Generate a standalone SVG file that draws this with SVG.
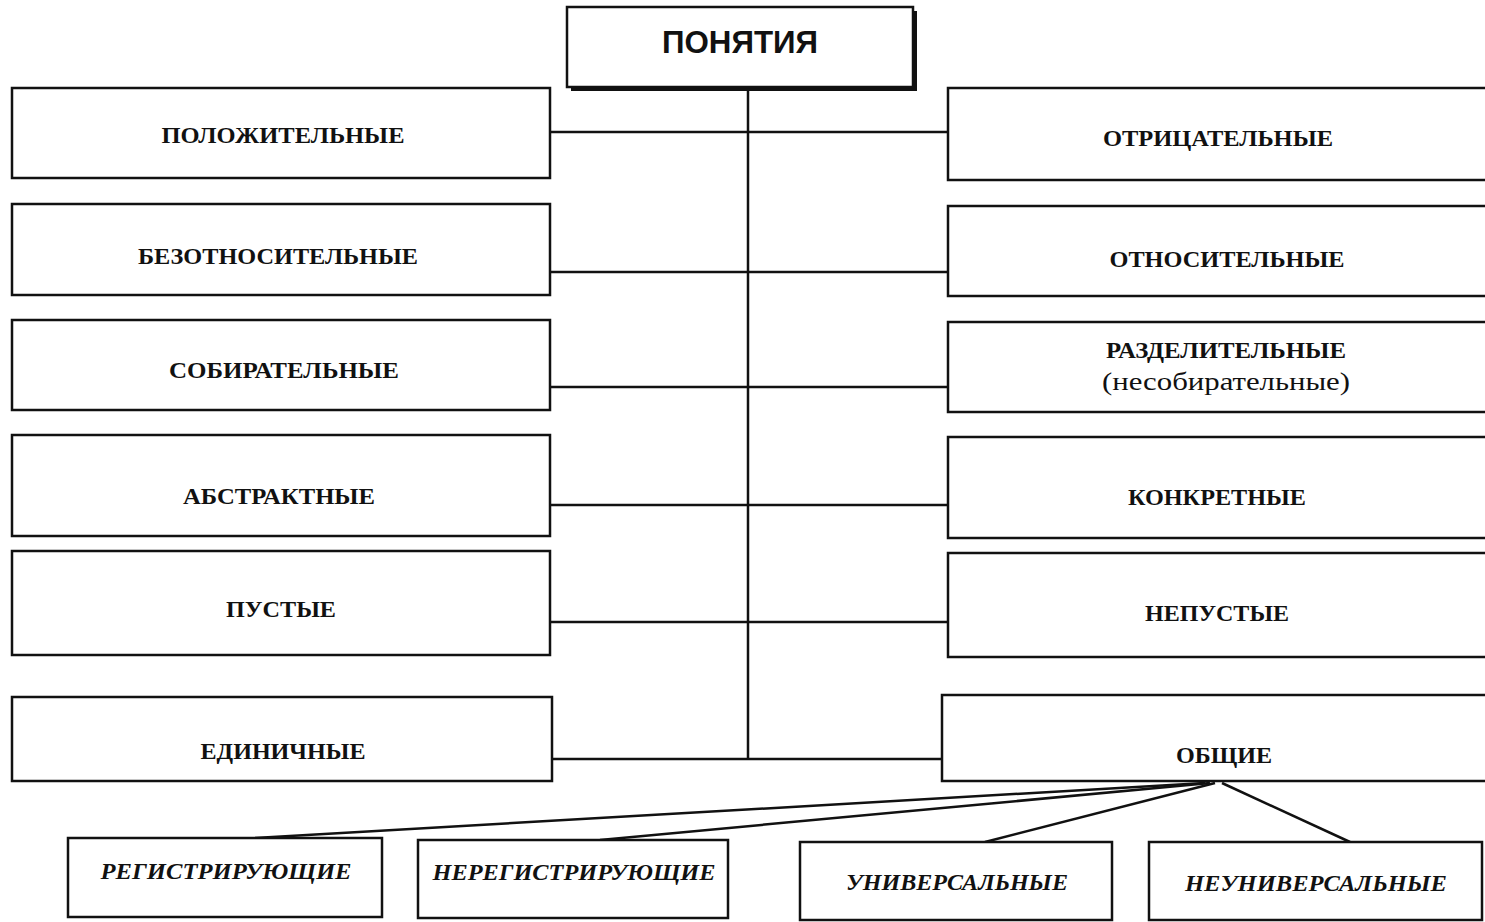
<svg xmlns="http://www.w3.org/2000/svg" width="1485" height="922" viewBox="0 0 1485 922">
<style>
.box{fill:#fff;stroke:#111;stroke-width:2.5}
.lbl{font-family:"Liberation Serif",serif;font-weight:bold;font-size:24px;fill:#111;text-anchor:middle;dominant-baseline:central}
.it{font-style:italic}
.reg{font-family:"Liberation Serif",serif;font-size:25px;fill:#111;text-anchor:middle;dominant-baseline:central}
.top{font-family:"Liberation Sans",sans-serif;font-weight:bold;font-size:31px;fill:#111;text-anchor:middle;dominant-baseline:central}
.ln{stroke:#111;stroke-width:2.5;fill:none}
</style>
<rect width="1485" height="922" fill="#fff"/>
<g id="connectors">
<line class="ln" x1="748" y1="87" x2="748" y2="759"/>
<line class="ln" x1="550" y1="132" x2="948" y2="132"/>
<line class="ln" x1="550" y1="272" x2="948" y2="272"/>
<line class="ln" x1="550" y1="387" x2="948" y2="387"/>
<line class="ln" x1="550" y1="505" x2="948" y2="505"/>
<line class="ln" x1="550" y1="622" x2="948" y2="622"/>
<line class="ln" x1="552" y1="759" x2="942" y2="759"/>
<line class="ln" x1="1205" y1="783" x2="255" y2="838"/>
<line class="ln" x1="1210" y1="783" x2="600" y2="840"/>
<line class="ln" x1="1215" y1="783" x2="985" y2="842"/>
<line class="ln" x1="1222" y1="783" x2="1350" y2="842"/>
</g>
<g id="n-ponyatiya">
<rect x="571" y="11" width="346" height="80" fill="#111"/>
<rect class="box" x="567" y="7" width="346" height="80"/>
<text class="top" x="740" y="42" textLength="156" lengthAdjust="spacingAndGlyphs">ПОНЯТИЯ</text>
</g>
<g id="n-polozh"><rect class="box" x="12" y="88" width="538" height="90"/><text class="lbl" x="283" y="135" textLength="243" lengthAdjust="spacingAndGlyphs">ПОЛОЖИТЕЛЬНЫЕ</text></g>
<g id="n-otric"><rect class="box" x="948" y="88" width="540" height="92"/><text class="lbl" x="1218" y="138" textLength="230" lengthAdjust="spacingAndGlyphs">ОТРИЦАТЕЛЬНЫЕ</text></g>
<g id="n-bezotn"><rect class="box" x="12" y="204" width="538" height="91"/><text class="lbl" x="278" y="256" textLength="280" lengthAdjust="spacingAndGlyphs">БЕЗОТНОСИТЕЛЬНЫЕ</text></g>
<g id="n-otn"><rect class="box" x="948" y="206" width="540" height="90"/><text class="lbl" x="1227" y="259" textLength="235" lengthAdjust="spacingAndGlyphs">ОТНОСИТЕЛЬНЫЕ</text></g>
<g id="n-sobir"><rect class="box" x="12" y="320" width="538" height="90"/><text class="lbl" x="284" y="370" textLength="230" lengthAdjust="spacingAndGlyphs">СОБИРАТЕЛЬНЫЕ</text></g>
<g id="n-razdel"><rect class="box" x="948" y="322" width="540" height="90"/><text class="lbl" x="1226" y="350" textLength="240" lengthAdjust="spacingAndGlyphs">РАЗДЕЛИТЕЛЬНЫЕ</text><text class="reg" x="1226" y="381" textLength="248" lengthAdjust="spacingAndGlyphs">(несобирательные)</text></g>
<g id="n-abstr"><rect class="box" x="12" y="435" width="538" height="101"/><text class="lbl" x="279" y="496" textLength="192" lengthAdjust="spacingAndGlyphs">АБСТРАКТНЫЕ</text></g>
<g id="n-konkr"><rect class="box" x="948" y="437" width="540" height="101"/><text class="lbl" x="1217" y="497" textLength="178" lengthAdjust="spacingAndGlyphs">КОНКРЕТНЫЕ</text></g>
<g id="n-pust"><rect class="box" x="12" y="551" width="538" height="104"/><text class="lbl" x="281" y="609" textLength="110" lengthAdjust="spacingAndGlyphs">ПУСТЫЕ</text></g>
<g id="n-nepust"><rect class="box" x="948" y="553" width="540" height="104"/><text class="lbl" x="1217" y="613" textLength="144" lengthAdjust="spacingAndGlyphs">НЕПУСТЫЕ</text></g>
<g id="n-edin"><rect class="box" x="12" y="697" width="540" height="84"/><text class="lbl" x="283" y="751" textLength="165" lengthAdjust="spacingAndGlyphs">ЕДИНИЧНЫЕ</text></g>
<g id="n-obsh"><rect class="box" x="942" y="695" width="546" height="86"/><text class="lbl" x="1224" y="755" textLength="96" lengthAdjust="spacingAndGlyphs">ОБЩИЕ</text></g>
<g id="n-reg"><rect class="box" x="68" y="838" width="314" height="79"/><text class="lbl it" x="226" y="871" textLength="251" lengthAdjust="spacingAndGlyphs">РЕГИСТРИРУЮЩИЕ</text></g>
<g id="n-nereg"><rect class="box" x="418" y="840" width="310" height="78"/><text class="lbl it" x="574" y="872" textLength="283" lengthAdjust="spacingAndGlyphs">НЕРЕГИСТРИРУЮЩИЕ</text></g>
<g id="n-univ"><rect class="box" x="800" y="842" width="312" height="78"/><text class="lbl it" x="957" y="882" textLength="222" lengthAdjust="spacingAndGlyphs">УНИВЕРСАЛЬНЫЕ</text></g>
<g id="n-neuniv"><rect class="box" x="1149" y="842" width="333" height="78"/><text class="lbl it" x="1316" y="883" textLength="262" lengthAdjust="spacingAndGlyphs">НЕУНИВЕРСАЛЬНЫЕ</text></g>
</svg>
